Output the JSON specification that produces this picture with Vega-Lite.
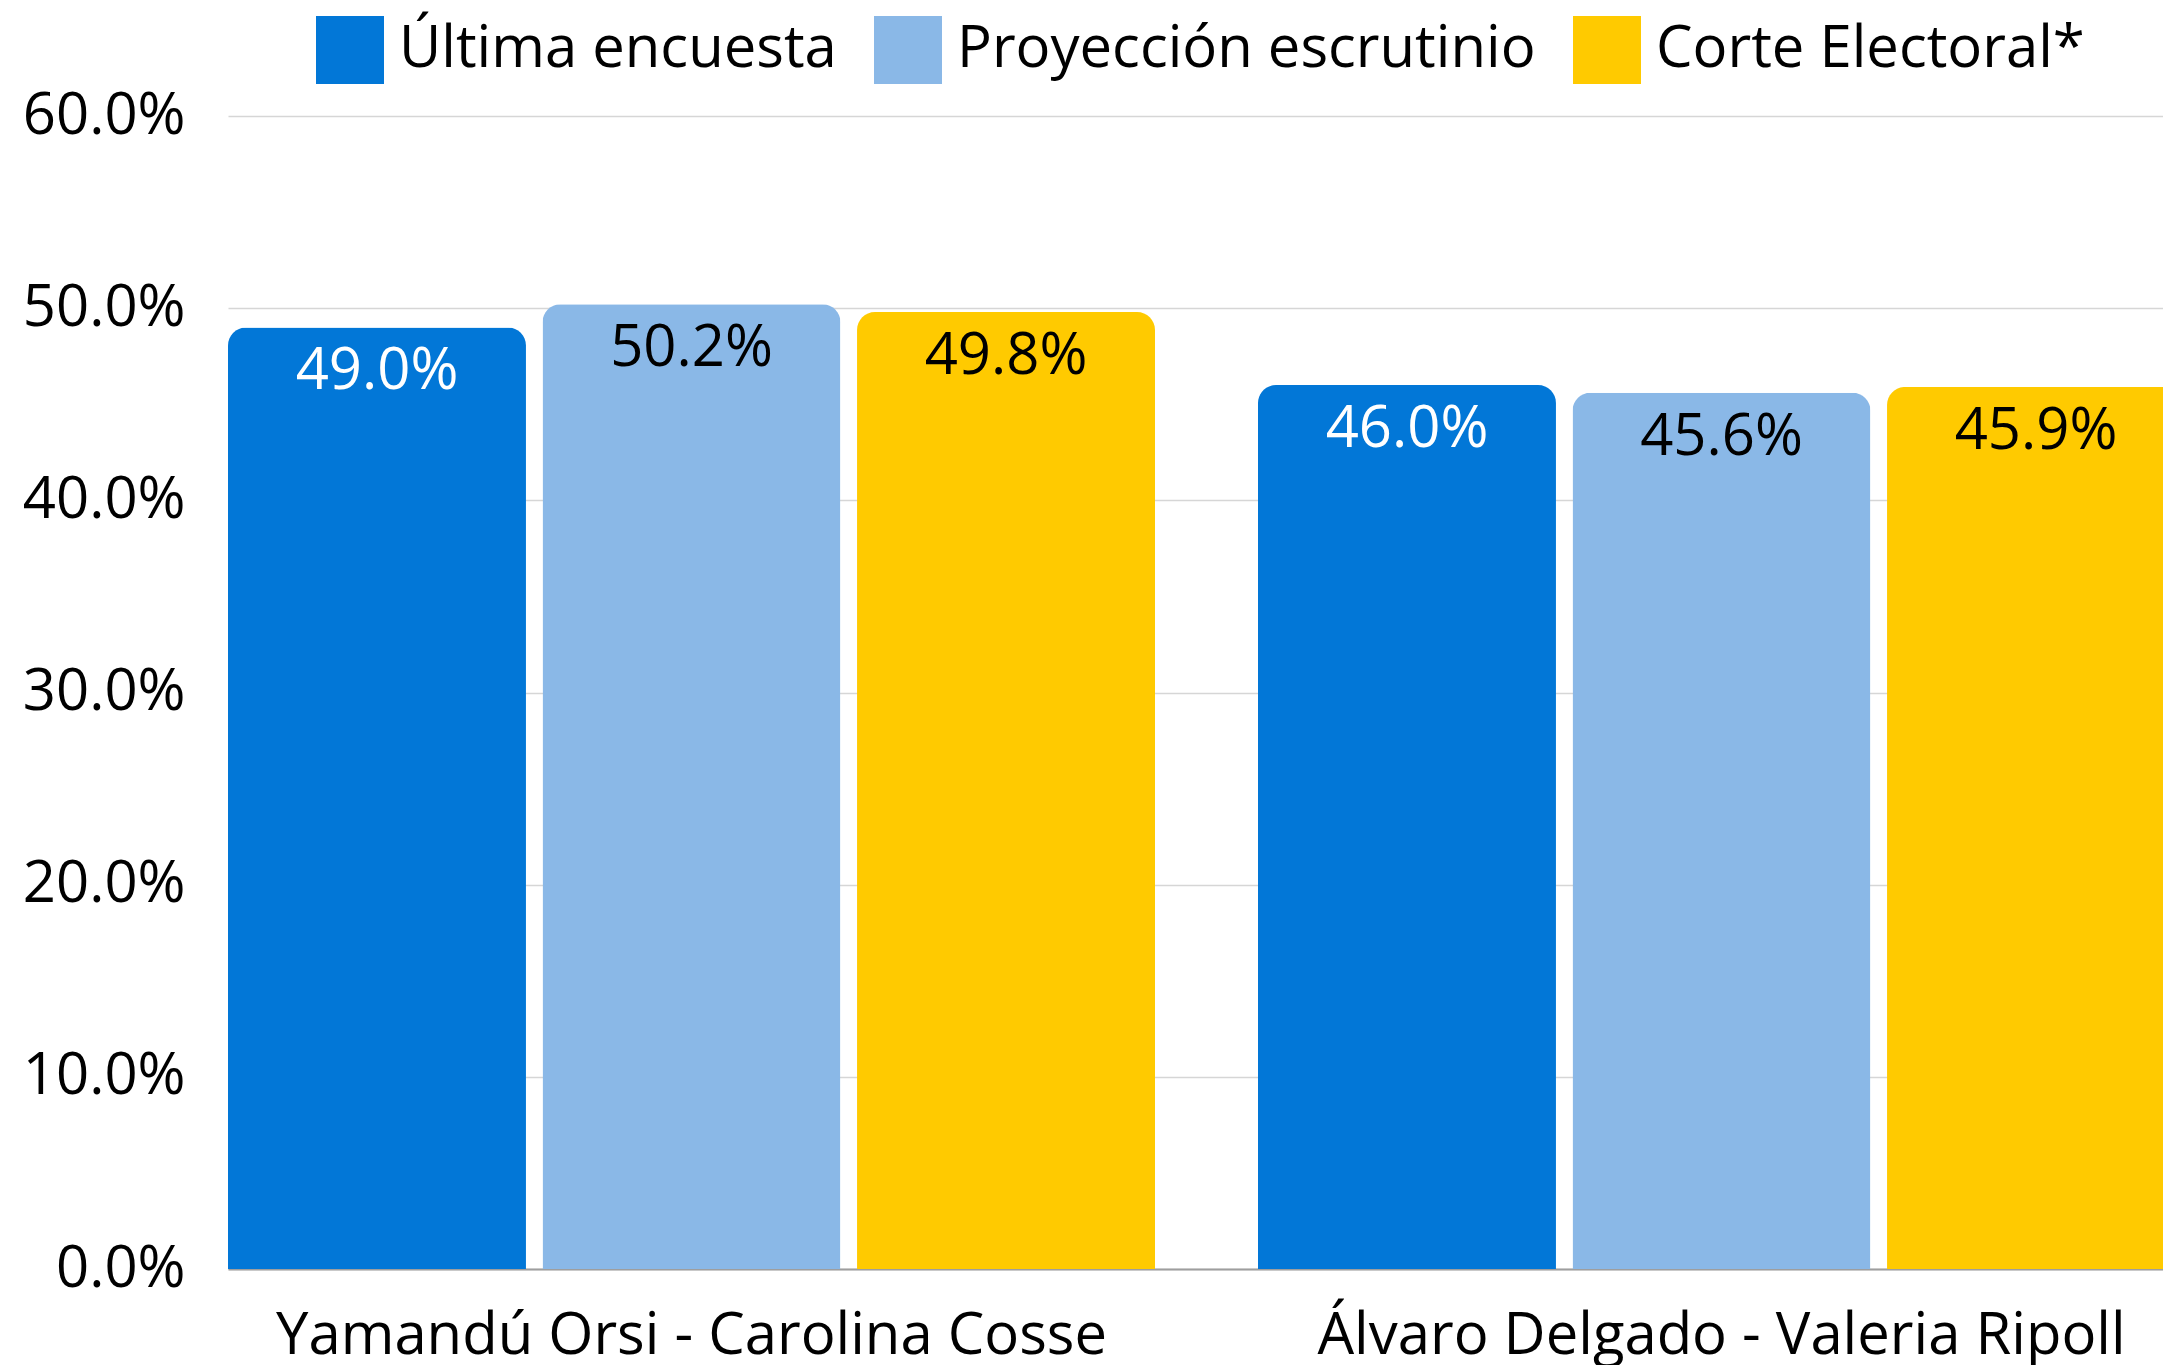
{
  "$schema": "https://vega.github.io/schema/vega-lite/v6.json",
  "autosize": {"type": "none"},
  "width": 1935,
  "height": 1153,
  "padding": {"left": 228, "top": 116, "right": 0, "bottom": 96},
  "background": "white",
  "config": {
    "font": "Open Sans",
    "view": {"stroke": null},
    "axis": {"labelFont": "Open Sans", "labelFontSize": 58, "labelColor": "#000000", "labelLimit": 0}
  },
  "data": {
    "values": [
      {"formula": "Yamandú Orsi - Carolina Cosse", "serie": "Última encuesta", "valor": 0.490},
      {"formula": "Yamandú Orsi - Carolina Cosse", "serie": "Proyección escrutinio", "valor": 0.502},
      {"formula": "Yamandú Orsi - Carolina Cosse", "serie": "Corte Electoral*", "valor": 0.498},
      {"formula": "Álvaro Delgado - Valeria Ripoll", "serie": "Última encuesta", "valor": 0.460},
      {"formula": "Álvaro Delgado - Valeria Ripoll", "serie": "Proyección escrutinio", "valor": 0.456},
      {"formula": "Álvaro Delgado - Valeria Ripoll", "serie": "Corte Electoral*", "valor": 0.459}
    ]
  },
  "encoding": {
    "x": {
      "field": "formula", "type": "nominal", "sort": null, "title": null,
      "scale": {"range": [0, 1957], "paddingInner": 0.1, "paddingOuter": 0},
      "axis": {"labelAngle": 0, "ticks": false, "domainColor": "#9e9e9e", "domainWidth": 2, "labelPadding": 38, "labelFontSize": 58, "labelLimit": 0, "grid": false}
    },
    "xOffset": {
      "field": "serie", "type": "nominal",
      "sort": ["Última encuesta", "Proyección escrutinio", "Corte Electoral*"],
      "scale": {"paddingInner": 0.0526, "paddingOuter": 0}
    },
    "y": {
      "field": "valor", "type": "quantitative", "title": null,
      "scale": {"domain": [0, 0.6]},
      "axis": {"format": ".1%", "values": [0, 0.1, 0.2, 0.3, 0.4, 0.5, 0.6], "domain": false, "ticks": false, "labelPadding": 43, "gridColor": "#d6d6d6", "gridWidth": 1.5, "labelFontSize": 58}
    }
  },
  "layer": [
    {
      "mark": {"type": "bar", "cornerRadiusTopLeft": 18, "cornerRadiusTopRight": 18},
      "encoding": {
        "color": {
          "field": "serie", "type": "nominal",
          "scale": {"domain": ["Última encuesta", "Proyección escrutinio", "Corte Electoral*"], "range": ["#0277d7", "#8ab8e7", "#ffca00"]},
          "legend": {
            "title": null, "orient": "none", "direction": "horizontal",
            "legendX": 88, "legendY": -100,
            "symbolType": "square", "symbolSize": 4624, "symbolStrokeWidth": 0, "symbolOpacity": 1,
            "labelFontSize": 58, "labelFont": "Open Sans", "labelColor": "#000000", "labelLimit": 0,
            "labelOffset": 15, "columnPadding": 37
          }
        }
      }
    },
    {
      "mark": {"type": "text", "baseline": "middle", "dy": 45, "fontSize": 58, "font": "Open Sans"},
      "encoding": {
        "text": {"field": "valor", "type": "quantitative", "format": ".1%"},
        "color": {"condition": {"test": "datum.serie === 'Última encuesta'", "value": "#ffffff"}, "value": "#000000"}
      }
    }
  ]
}
